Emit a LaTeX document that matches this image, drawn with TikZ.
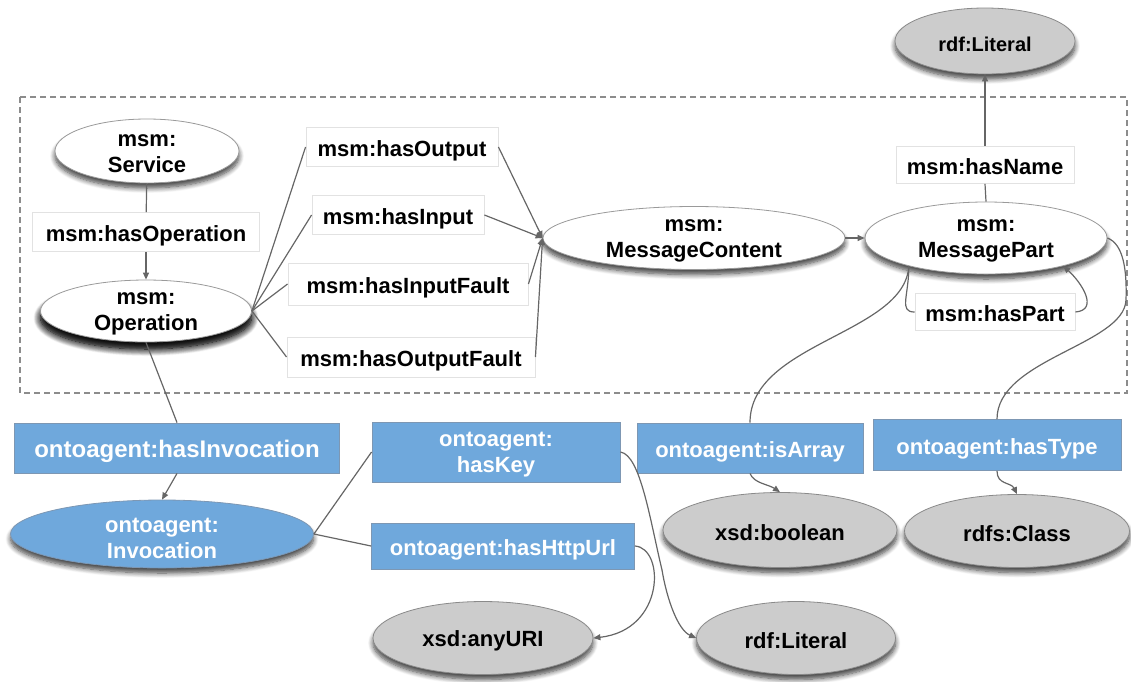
\documentclass[tikz,border=0pt]{standalone}
\usepackage{fontspec}
\setmainfont{Liberation Sans}
\usetikzlibrary{shapes.geometric,arrows.meta,shadows,shadows.blur,calc}

\definecolor{linkgray}{HTML}{666666}
\definecolor{ontoblue}{HTML}{6FA8DC}
\definecolor{ontoborder}{HTML}{7D97B3}
\definecolor{litgray}{HTML}{CCCCCC}
\definecolor{litborder}{HTML}{8A8A8A}
\definecolor{classborder}{HTML}{9A9A9A}
\definecolor{boxline}{HTML}{E2E2E2}
\definecolor{framegray}{HTML}{8C8C8C}

\tikzset{
  txt/.style={font=\fontsize{22}{26}\selectfont\bfseries, align=center, inner sep=0pt},
  intxt/.style={txt, yshift=-3pt},
  oneline/.style={text height=24pt, text depth=5pt},
  softshadow/.style={blur shadow={shadow xshift=0pt, shadow yshift=-5pt,
      shadow blur radius=5pt, shadow blur steps=8, shadow opacity=75}},
  classnode/.style={ellipse, inner sep=0pt, fill=white, draw=classborder,
      line width=0.8pt, softshadow},
  datanode/.style={classnode, fill=litgray, draw=litborder},
  agentnode/.style={classnode, fill=ontoblue, draw=ontoborder},
  prop/.style={rectangle, fill=white, draw=boxline, line width=0.9pt, txt, oneline},
  agentprop/.style={rectangle, fill=ontoblue, draw=ontoborder, line width=0.9pt,
      txt, text=white},
  link/.style={draw=linkgray, line width=1.2pt},
  linkarr/.style={link, -{Triangle[length=7pt,width=6pt]}},
}

\begin{document}
\begin{tikzpicture}[x=1pt,y=-1pt]
\useasboundingbox (0,0) rectangle (1131,681);

% module boundary
\draw[framegray, line width=1.2pt, dash pattern=on 6pt off 4pt] (20,97) rectangle (1127,393);

% classes of the service model
\node[classnode, minimum width=184, minimum height=64,
      label={[intxt]center:{msm:\\Service}}] (svc) at (147,151) {};
\node[classnode, minimum width=211, minimum height=62,
      blur shadow={shadow xshift=0pt, shadow yshift=-7pt, shadow blur radius=7pt,
        shadow blur steps=10, shadow opacity=85},
      label={[intxt]center:{msm:\\Operation}}] (op) at (146,311) {};
\node[classnode, minimum width=302, minimum height=63,
      label={[intxt]center:{msm:\\MessageContent}}] (mc) at (694,238) {};
\node[classnode, minimum width=242, minimum height=72,
      label={[intxt]center:{msm:\\MessagePart}}] (mp) at (986,238) {};

% literal and datatype classes
\node[datanode, minimum width=180, minimum height=66,
      label={[intxt, font=\fontsize{20}{24}\selectfont\bfseries]center:{rdf:Literal}}] (lit1) at (985,41) {};
\node[datanode, minimum width=234, minimum height=75,
      label={[intxt]center:{xsd:boolean}}] (bool) at (780,530) {};
\node[datanode, minimum width=225, minimum height=73,
      label={[intxt]center:{rdfs:Class}}] (cls) at (1017,531) {};
\node[datanode, minimum width=220, minimum height=73,
      label={[intxt]center:{xsd:anyURI}}] (anyuri) at (483,638) {};
\node[datanode, minimum width=199, minimum height=73,
      label={[intxt]center:{rdf:Literal}}] (lit2) at (796,638) {};

% agent class
\node[agentnode, minimum width=303, minimum height=68,
      label={[intxt, yshift=-1pt, text=white]center:{ontoagent:\\Invocation}}] (inv) at (162,534) {};

% service model properties
\node[prop, minimum width=227, minimum height=39] (hasop) at (146,232) {msm:hasOperation};
\node[prop, minimum width=192, minimum height=39] (hout) at (402,147) {msm:hasOutput};
\node[prop, minimum width=172, minimum height=39] (hin) at (398,215) {msm:hasInput};
\node[prop, minimum width=240, minimum height=42] (hinf) at (408,284) {msm:hasInputFault};
\node[prop, minimum width=248, minimum height=40] (houtf) at (411,357) {msm:hasOutputFault};
\node[prop, minimum width=178, minimum height=37] (hname) at (985,165) {msm:hasName};
\node[prop, minimum width=160, minimum height=37] (hpart) at (995,312) {msm:hasPart};

% agent properties
\node[agentprop, oneline, minimum width=325, minimum height=50,
      font=\fontsize{24}{28}\selectfont\bfseries] (hinv) at (177,448) {ontoagent:hasInvocation};
\node[agentprop, minimum width=248, minimum height=60,
      label={[intxt, text=white]center:{ontoagent:\\hasKey}}] (hkey) at (496,452) {};
\node[agentprop, oneline, minimum width=263, minimum height=46] (hurl) at (503,546) {ontoagent:hasHttpUrl};
\node[agentprop, oneline, minimum width=226, minimum height=50] (isarr) at (750,448) {ontoagent:isArray};
\node[agentprop, oneline, minimum width=248, minimum height=51] (htype) at (997,445) {ontoagent:hasType};

% service -> operation
\draw[link] (svc) -- (hasop);
\draw[linkarr] (hasop) -- (op);

% operation -> message content
\draw[link] (op.east) -- (hout.west);
\draw[link] (op.east) -- (hin.west);
\draw[link] (op.east) -- (hinf.west);
\draw[link] (op.east) -- (houtf.west);
\draw[linkarr] (hout.east) -- (mc.west);
\draw[linkarr] (hin.east) -- (mc.west);
\draw[linkarr] (hinf.east) -- (mc.west);
\draw[linkarr] (houtf.east) -- (mc.west);

% message content -> message part
\draw[linkarr] (mc.east) -- (mp.west);

% message part name
\draw[link] (mp.north) -- (hname.south);
\draw[linkarr] (hname.north) -- (lit1.south);

% nested parts
\draw[link] (mp.-160) .. controls +(0,30) and +(-16,0) .. (hpart.west);
\draw[linkarr] (hpart.east) .. controls +(24,-2) and +(18,16) .. (mp.-20);

% array flag
\draw[link] (mp.-160) .. controls +(-4,68) and +(0,-80) .. (isarr.north);
\draw[linkarr] (isarr.south) .. controls +(4,10) and +(-12,-8) .. (bool.north);

% type
\coordinate (typebend) at (1126,300);
\draw[link] (mp.east) .. controls +(16,6) and +(1,-30) .. (typebend)
  .. controls +(-2,45) and +(0,-60) .. (htype.north);
\draw[linkarr] (htype.south) .. controls +(0,14) and +(-6,-12) .. (cls.north);

% invocation
\draw[link] (op.south) -- (hinv.north);
\draw[linkarr] (hinv.south) -- (inv.north);
\draw[link] (inv.east) -- (hkey.west);
\draw[link] (inv.east) -- (hurl.west);

% key and endpoint
\coordinate (keybend) at (662,570);
\draw[link] (hkey.east) .. controls +(20,3) and +(-12,-50) .. (keybend);
\draw[linkarr] (keybend) .. controls +(5,30) and +(-18,-8) .. (lit2.west);
\draw[linkarr] (hurl.east) .. controls +(30,2) and +(72,-8) .. (anyuri.east);
\end{tikzpicture}
\end{document}
